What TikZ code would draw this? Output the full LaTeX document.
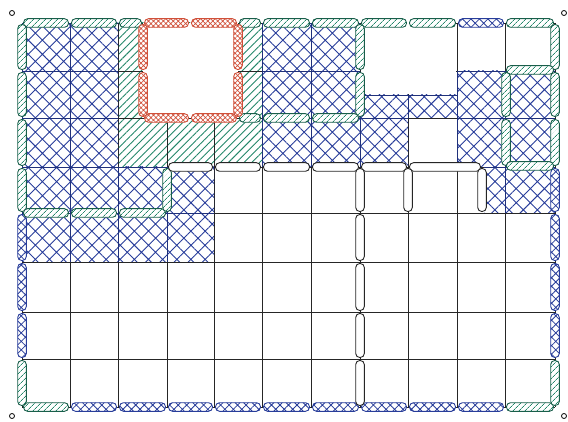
\documentclass[tikz,border=0pt]{standalone}
\usetikzlibrary{patterns.meta}
\definecolor{gcol}{HTML}{24876A}
\definecolor{bcol}{HTML}{283D9A}
\definecolor{rcol}{HTML}{D0503A}
\tikzset{
 bfill/.style={pattern={Hatch[angle=45,distance=10pt,line width=0.9pt]}, pattern color=bcol},
 gfill/.style={pattern={Lines[angle=45,distance=5.5pt,line width=0.9pt]}, pattern color=gcol},
 band/.style={rounded corners=4pt, line width=0.9pt, preaction={fill=white}},
 gband/.style={band, draw=gcol!70!black, pattern={Lines[angle=45,distance=4pt,line width=0.8pt]}, pattern color=gcol},
 bband/.style={band, draw=bcol, pattern={Hatch[angle=45,distance=6pt,line width=0.8pt]}, pattern color=bcol},
 rband/.style={band, draw=rcol, pattern={Hatch[angle=45,distance=3.5pt,line width=0.7pt]}, pattern color=rcol},
 wband/.style={band, draw=black!85},
 gridline/.style={line width=0.9pt, black!85},
 bgridline/.style={line width=0.9pt, bcol!80!black},
}
\newcommand\hband[4]{\draw[#4] ({#1+1.5},{#2-4.3}) rectangle ({#3-1.5},{#2+4.3});}
\newcommand\vband[4]{\draw[#4] ({#1-4.3},{#2+1.5}) rectangle ({#1+4.3},{#3-1.5});}
\begin{document}
\begin{tikzpicture}[x=1pt,y=-1pt]
\useasboundingbox (0,0) rectangle (568,422);
% fills
\fill[bfill] (22,23) rectangle (118,167);
\fill[bfill] (22,167) rectangle (214,262);
\fill[bfill] (262,23) rectangle (360,118);
\fill[bfill] (262,118) rectangle (408,167);
\fill[bfill] (360,95) rectangle (457,118);
\fill[bfill] (457,71) rectangle (555,167);
\fill[bfill] (484,167) rectangle (555,213);
\fill[gfill] (118,23) rectangle (262,167);
% grid
\foreach \x in {22,70,118,167,214,262,311,360,408,457,505,555}
  \draw[gridline] (\x,23) -- (\x,407);
\foreach \y in {23,71,118,167,213,262,312,359,407}
  \draw[gridline] (22,\y) -- (555,\y);
\begin{scope}
\clip (22,23) rectangle (118,167) (22,167) rectangle (214,262)
      (262,23) rectangle (360,118) (262,118) rectangle (408,167)
      (360,95) rectangle (457,118) (457,71) rectangle (555,167)
      (484,167) rectangle (555,213);
\foreach \x in {22,70,118,167,214,262,311,360,408,457,505,555}
  \draw[bgridline] (\x,23) -- (\x,407);
\foreach \y in {23,71,118,167,213,262,312,359,407}
  \draw[bgridline] (22,\y) -- (555,\y);
\end{scope}
% white areas
\fill[white] (143,23) rectangle (238,118);
\fill[white] (361,20) rectangle (456.3,94.5);
\draw[bgridline] (360,95) -- (457,95);
% outer border: top
\hband{22}{23}{70}{gband} \hband{70}{23}{118}{gband} \hband{118}{23}{143}{gband}
\hband{238}{23}{262}{gband} \hband{262}{23}{311}{gband} \hband{311}{23}{360}{gband}
\hband{360}{23}{408}{gband} \hband{408}{23}{457}{gband}
\hband{457}{23}{505}{bband} \hband{505}{23}{555}{gband}
% bottom
\hband{22}{407}{70}{gband}
\foreach \a/\b in {70/118,118/167,167/214,214/262,262/311,311/360,360/408,408/457,457/505}
  {\hband{\a}{407}{\b}{bband}}
\hband{505}{407}{555}{gband}
% left
\vband{22}{23}{71}{gband} \vband{22}{71}{118}{gband} \vband{22}{118}{167}{gband} \vband{22}{167}{213}{gband}
\vband{22}{213}{262}{bband} \vband{22}{262}{312}{bband} \vband{22}{312}{359}{bband}
\vband{22}{359}{407}{gband}
% right
\vband{555}{23}{71}{gband} \vband{555}{71}{118}{gband} \vband{555}{118}{167}{gband}
\vband{555}{167}{213}{bband} \vband{555}{213}{262}{bband} \vband{555}{262}{312}{bband} \vband{555}{312}{359}{bband}
\vband{555}{359}{407}{gband}
% interior green bands
\vband{360}{23}{71}{gband} \vband{360}{71}{118}{gband}
\hband{238}{118}{262}{gband} \hband{262}{118}{311}{gband} \hband{311}{118}{360}{gband}
\hband{22}{213}{70}{gband} \hband{70}{213}{118}{gband} \hband{118}{213}{167}{gband}
\vband{167}{167}{213}{gband}
\hband{505}{70}{555}{gband}
\vband{506}{71}{118}{gband} \vband{506}{118}{167}{gband}
\hband{505}{166}{555}{gband}
% red square
\hband{143}{23}{190}{rband} \hband{190}{23}{238}{rband}
\hband{143}{118}{190}{rband} \hband{190}{118}{238}{rband}
\vband{143}{23}{71}{rband} \vband{143}{71}{118}{rband}
\vband{238}{23}{71}{rband} \vband{238}{71}{118}{rband}
% white capsules
\foreach \a/\b in {167/214,214/262,262/311,311/360,360/408,408/482}
  {\hband{\a}{167}{\b}{wband}}
\foreach \a/\b in {167/213,213/262,262/312,312/359,359/407}
  {\vband{360}{\a}{\b}{wband}}
\vband{408}{167}{213}{wband}
\vband{482}{167}{213}{wband}
% corner circles
\foreach \p in {(12,13),(564,13),(12,416),(564,416)}
  \draw[line width=0.8pt] \p circle[radius=2.5pt];
\end{tikzpicture}
\end{document}
